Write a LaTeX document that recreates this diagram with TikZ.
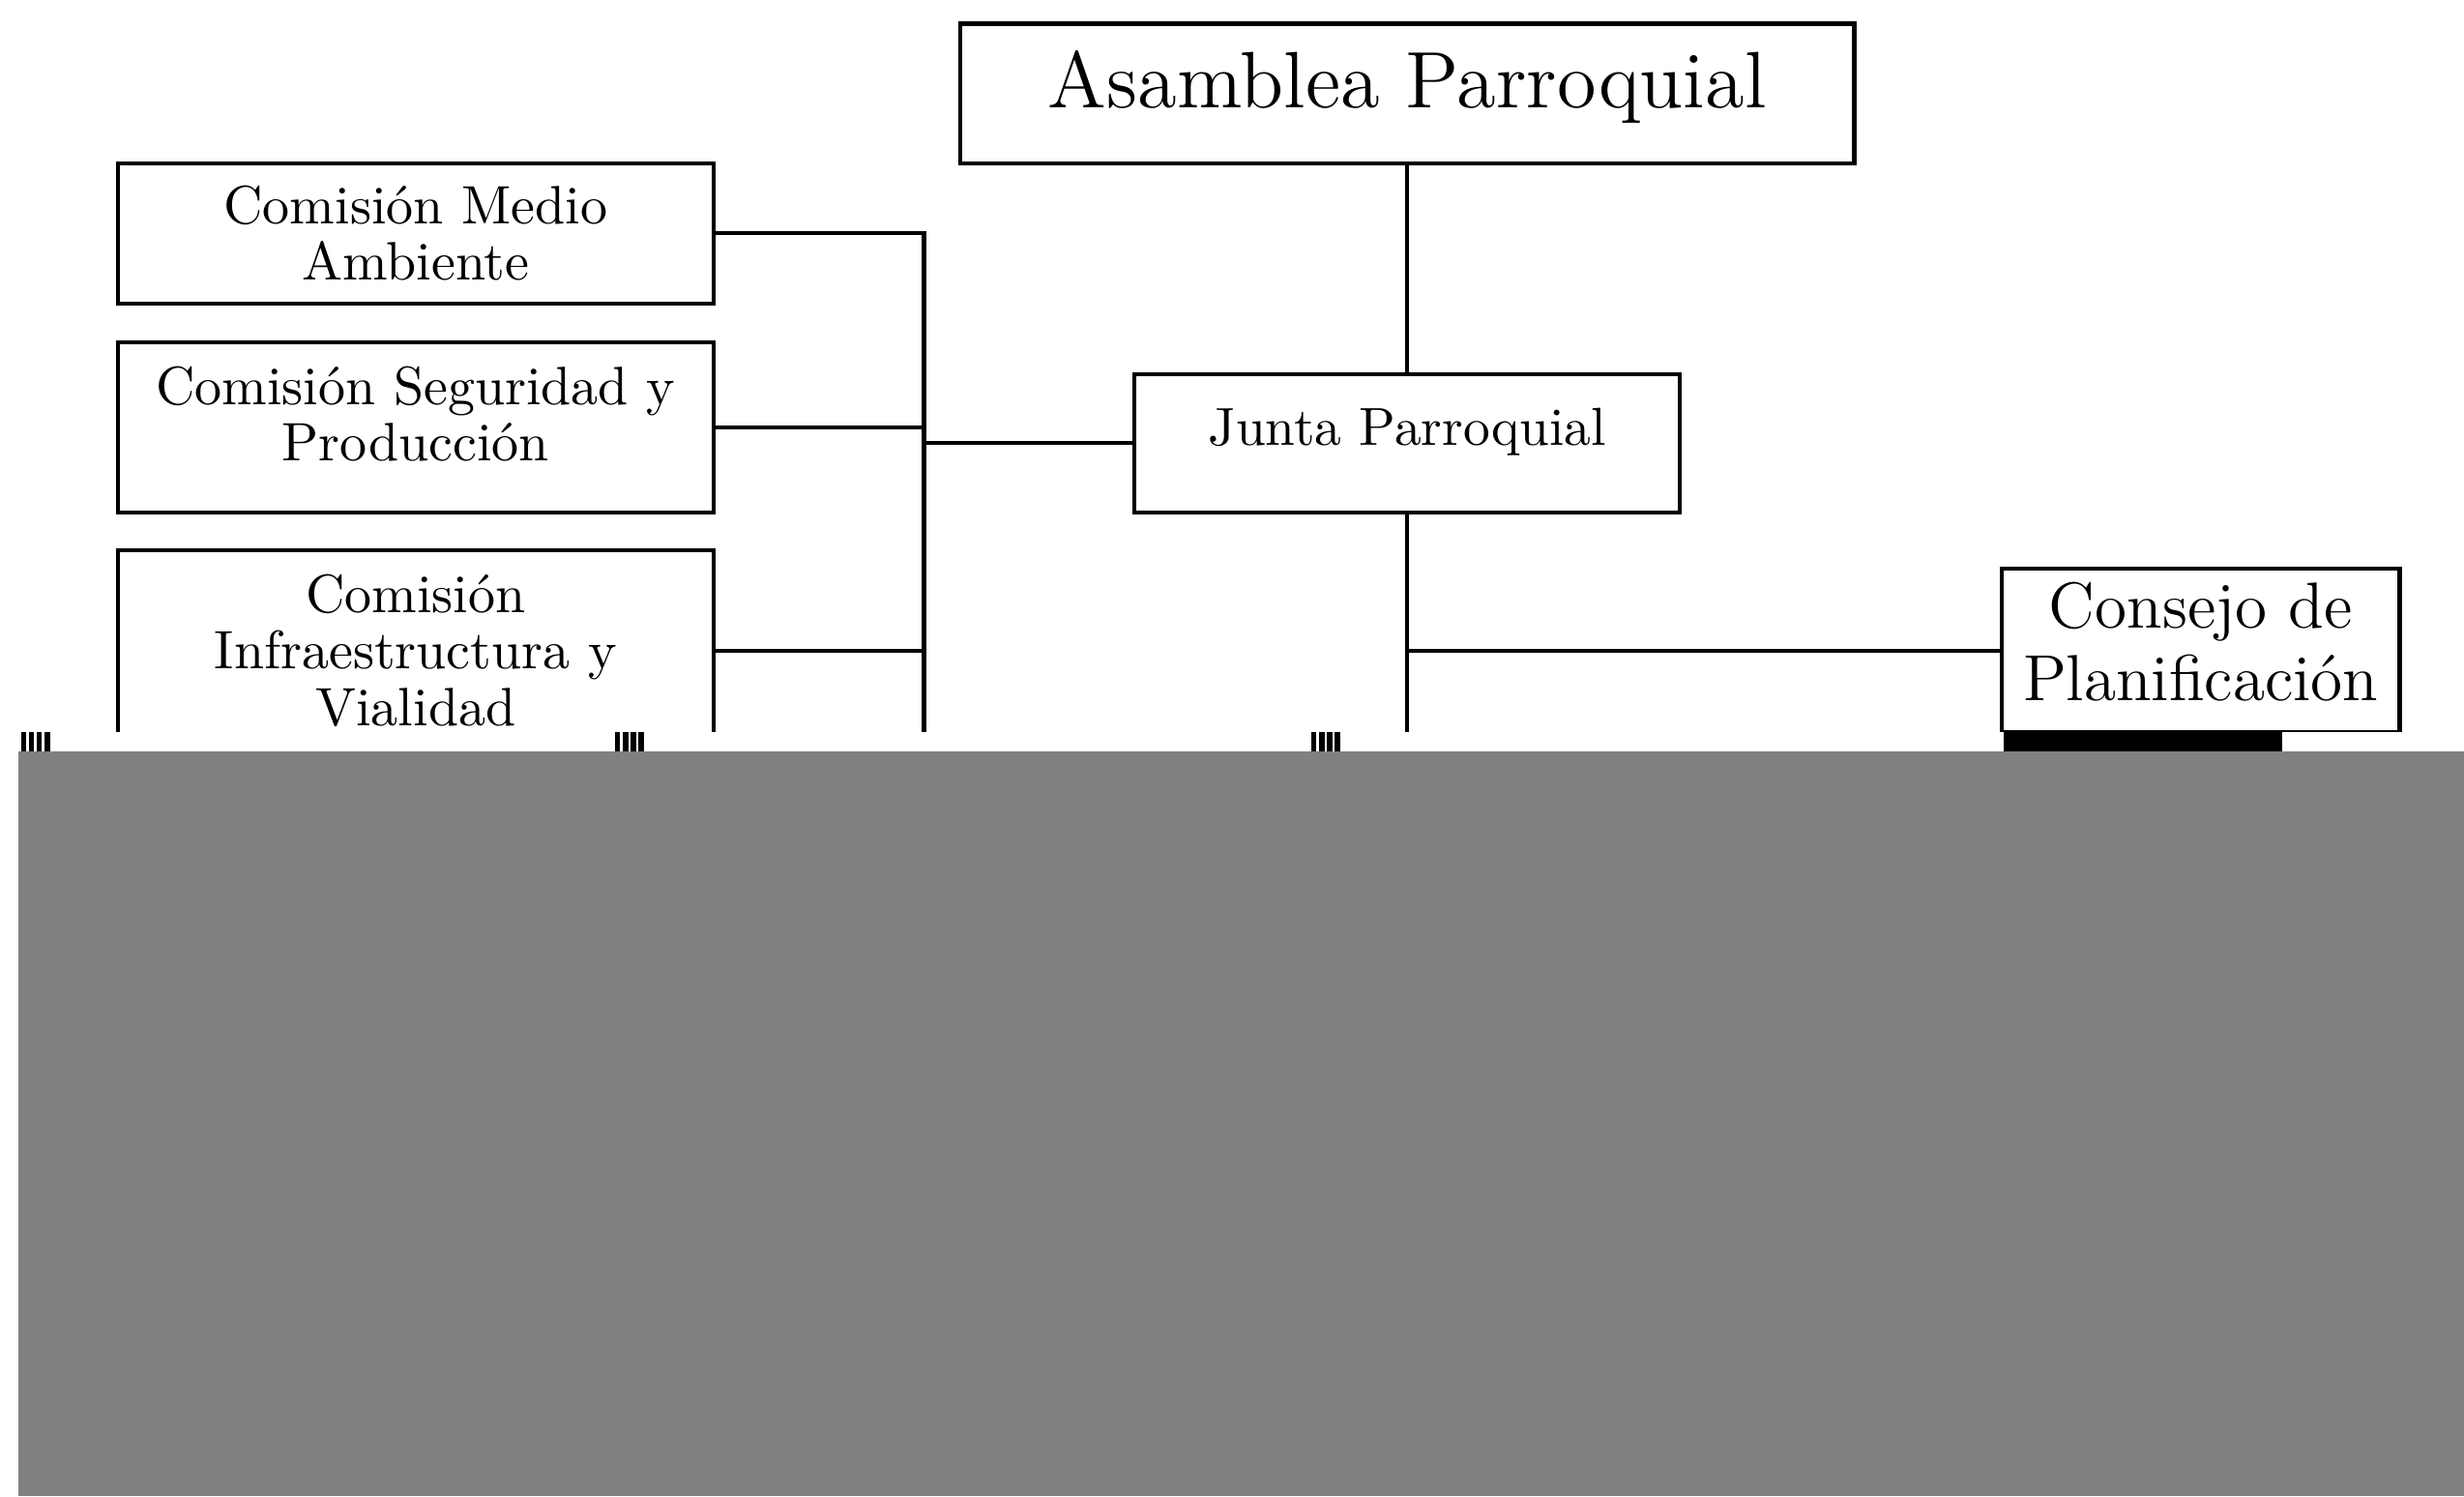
\documentclass[tikz,border=0pt]{standalone}
\definecolor{orgLine}{RGB}{0,0,0}
\definecolor{orgGray}{RGB}{128,128,128}

% invisible strut that lifts the text in its box
\newcommand{\orgdrop}[1]{\rule[-#1]{0pt}{0pt}}

\tikzset{
  orgbox/.style={draw=orgLine, rectangle, align=center, inner sep=0pt},
  smalltext/.style={font=\fontsize{9.8}{10.2}\selectfont}
}

\begin{document}
\begin{tikzpicture}[every path/.style={line width=0.75pt}]
\useasboundingbox (0,0) rectangle (15.68,-9.52);

% Top boxes
\node (asam) at (8.955,-0.595) [orgbox, minimum width=5.69cm, minimum height=0.89cm, font=\fontsize{14.5}{16}\selectfont] {Asamblea Parroquial\orgdrop{5.2pt}};
\node (junta) at (8.955,-2.82) [orgbox, minimum width=3.47cm, minimum height=0.88cm, font=\fontsize{9.7}{11}\selectfont] {Junta Parroquial\orgdrop{6pt}};
\node (cons) at (14.005,-4.14) [orgbox, minimum width=2.53cm, minimum height=1.04cm, font=\fontsize{11.8}{13.1}\selectfont] {Consejo de\\Planificación\orgdrop{3.4pt}};

% Comisiones
\node (medio) at (2.645,-1.485) [orgbox, smalltext, minimum width=3.79cm, minimum height=0.89cm] {Comisión Medio\\Ambiente};
\node (segu) at (2.645,-2.72) [orgbox, smalltext, minimum width=3.79cm, minimum height=1.08cm] {Comisión Seguridad y\\Producción\orgdrop{5.1pt}};
\node (infra) at (2.645,-4.14) [orgbox, smalltext, minimum width=3.79cm, minimum height=1.28cm] {Comisión\\Infraestructura y\\Vialidad};

% Connectors
\coordinate (bustop) at (5.88,-1.485);
\coordinate (busend) at (5.88,-4.9);
\coordinate (jend) at (8.955,-4.9);
\draw (asam) -- (junta);
\draw (junta) -- (jend);
\draw (cons.west) -- (cons.west -| junta.south);
\draw (medio.east) -- (bustop) -- (busend);
\draw (segu.east) -- (segu.east -| bustop);
\draw (infra.east) -- (infra.east -| bustop);
\draw (junta.west) -- (junta.west -| bustop);

% Cut band and grey block
\fill [white] (0,-4.66) rectangle (15.68,-4.78);
\foreach \x in {0.15,0.20,0.25,0.30, 3.93,3.98,4.03,4.08, 8.36,8.41,8.46,8.51} {
    \draw [orgLine, line width=1pt] (\x,-4.66) -- (\x,-4.78);
}
\fill [orgLine] (12.75,-4.66) rectangle (14.52,-4.78);
\fill [orgGray] (0.12,-4.78) rectangle (15.68,-9.52);

\end{tikzpicture}
\end{document}
